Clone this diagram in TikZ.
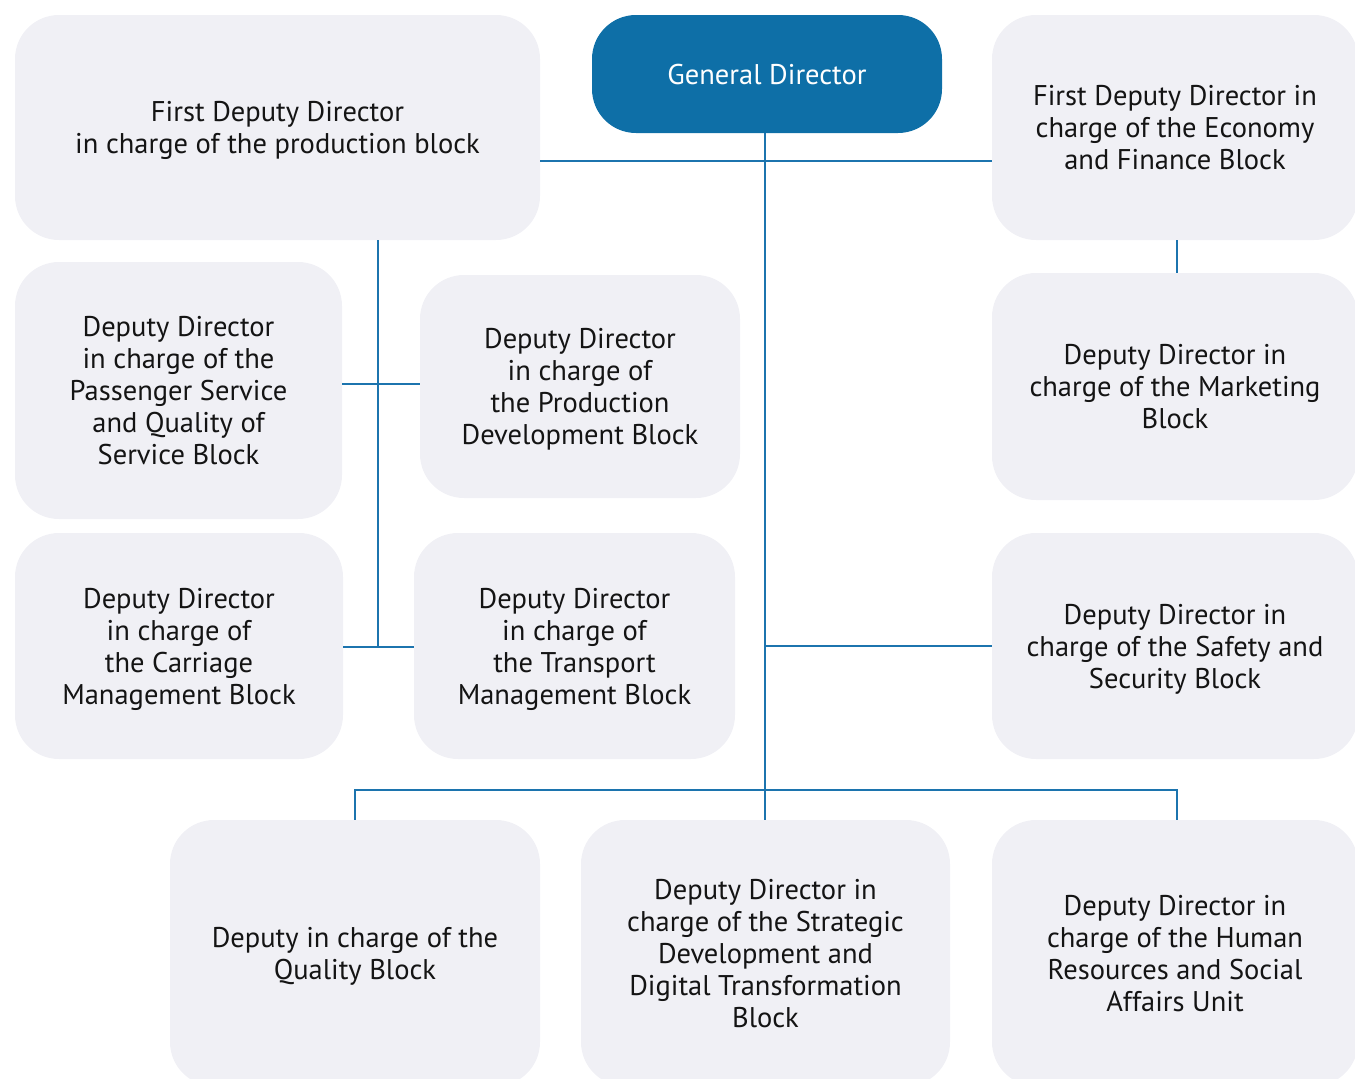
\documentclass[tikz,border=0pt]{standalone}
\usepackage{fontspec}
\setmainfont{PT Sans}
\usepackage{xcolor}
\usepackage{tikz}
\usetikzlibrary{positioning,calc}
\definecolor{gdblue}{HTML}{0E6FA7}
\definecolor{linkblue}{HTML}{1C74AE}
\definecolor{boxgray}{HTML}{F0F0F5}

\begin{document}
\begin{tikzpicture}[
    x=1pt, y=-1pt,
    font=\fontsize{28.5}{32}\selectfont,
    box/.style={rectangle, rounded corners=44pt, fill=boxgray, text=black!92, align=center, inner sep=0pt, text depth=0pt},
    head/.style={box, fill=gdblue, text=white},
    link/.style={draw=linkblue, line width=2.2pt}
]
    \useasboundingbox (0,0) rectangle (1355,1079);
    \clip (0,0) rectangle (1355,1079);

    % top row
    \node[head, minimum width=350pt, minimum height=118pt] (gd) at (767,74) {General Director};
    \node[box, minimum width=525pt, minimum height=225pt, text depth=-5pt] (fdprod) at (277.5,127.5) {First Deputy Director\\in charge of the production block};
    \node[box, minimum width=366pt, minimum height=225pt] (fdecon) at (1175,127.5) {First Deputy Director in\\charge of the Economy\\and Finance Block};

    % production block
    \node[box, minimum width=327pt, minimum height=257pt] (passenger) at (178.5,390.5) {Deputy Director\\in charge of the\\Passenger Service\\and Quality of\\Service Block};
    \node[box, minimum width=320pt, minimum height=223pt] (proddev) at (580,386.5) {Deputy Director\\in charge of\\the Production\\Development Block};
    \node[box, minimum width=328pt, minimum height=226pt] (carriage) at (179,646) {Deputy Director\\in charge of\\the Carriage\\Management Block};
    \node[box, minimum width=321pt, minimum height=226pt] (transport) at (574.5,646) {Deputy Director\\in charge of\\the Transport\\Management Block};

    % right column
    \node[box, minimum width=366pt, minimum height=227pt] (marketing) at (1175,386.5) {Deputy Director in\\charge of the Marketing\\Block};
    \node[box, minimum width=366pt, minimum height=226pt] (safety) at (1175,646) {Deputy Director in\\charge of the Safety and\\Security Block};

    % bottom row
    \node[box, minimum width=370pt, minimum height=266pt] (quality) at (355,953) {Deputy in charge of the\\Quality Block};
    \node[box, minimum width=369pt, minimum height=266pt] (strategic) at (765.5,953) {Deputy Director in\\charge of the Strategic\\Development and\\Digital Transformation\\Block};
    \node[box, minimum width=366pt, minimum height=266pt] (hr) at (1175,953) {Deputy Director in\\charge of the Human\\Resources and Social\\Affairs Unit};

    % junctions
    \coordinate (topbus) at (765,161);
    \coordinate (ptrunk) at (378,647);
    \coordinate (ptap) at (378,384);
    \coordinate (botbus) at (765,790);

    \draw[link] (topbus -| gd.south) ++(-2,0) coordinate (gdx);
    \draw[link] (gdx |- gd.south) -- (gdx |- strategic.north);
    \draw[link] (fdprod.east |- topbus) -- (fdecon.west |- topbus);
    \draw[link] (fdecon.south -| 1177,0) -- (marketing.north -| 1177,0);
    \draw[link] (ptrunk |- fdprod.south) -- (ptrunk);
    \draw[link] (passenger.east |- ptap) -- (proddev.west |- ptap);
    \draw[link] (carriage.east |- ptrunk) -- (transport.west |- ptrunk);
    \draw[link] (gdx |- safety.west) -- (safety.west);
    \draw[link] (quality.north) |- (botbus) -| (hr.north -| 1177,0);
\end{tikzpicture}
\end{document}
